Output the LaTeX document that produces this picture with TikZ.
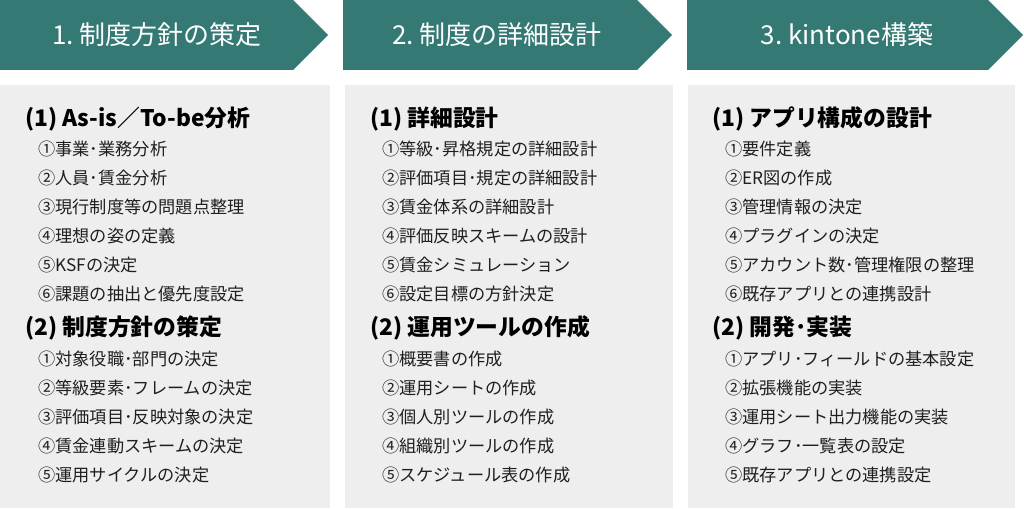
\documentclass[tikz,border=0pt]{standalone}
\usepackage{fontspec}
\setmainfont{Noto Sans CJK JP}
\definecolor{teal1}{RGB}{52,121,116}
\definecolor{boxgrey}{RGB}{238,238,238}
\begin{document}
\begin{tikzpicture}[x=1pt,y=-1pt,
  hdr/.style={font=\fontsize{26}{26}\selectfont, text=white, inner sep=0pt},
  sec/.style={font=\bfseries\fontsize{22.8}{23}\selectfont, anchor=west, inner sep=0pt, text=black},
  itm/.style={font=\fontsize{17.2}{17}\selectfont, anchor=west, inner sep=0pt, text=black!88}]
\useasboundingbox (0,0) rectangle (1024,508);
% header arrows
\fill[teal1] (0,0) -- (293,0) -- (328,35) -- (293,70) -- (0,70) -- cycle;
\fill[teal1] (343,0) -- (637,0) -- (672,35) -- (637,70) -- (343,70) -- cycle;
\fill[teal1] (687,0) -- (988,0) -- (1023,35) -- (988,70) -- (687,70) -- cycle;
\node[hdr] (h1) at (157,35) {1.\ 制度方針の策定};
\node[hdr] (h2) at (497,35) {2.\ 制度の詳細設計};
\node[hdr] (h3) at (847,35) {3.\ kintone構築};
% grey boxes
\fill[boxgrey] (0,85) rectangle (330,508);
\fill[boxgrey] (345,85) rectangle (673,508);
\fill[boxgrey] (688,85) rectangle (1015,508);
% column 1
\node[sec] (a1) at (25,119) {(1) As-is／To-be分析};
\node[itm] (a11) at (38,149) {①事業･業務分析};
\node[itm] (a12) at (38,178) {②人員･賃金分析};
\node[itm] (a13) at (38,207) {③現行制度等の問題点整理};
\node[itm] (a14) at (38,236) {④理想の姿の定義};
\node[itm] (a15) at (38,265) {⑤KSFの決定};
\node[itm] (a16) at (38,294) {⑥課題の抽出と優先度設定};
\node[sec] (a2) at (25,328) {(2) 制度方針の策定};
\node[itm] (a21) at (38,359) {①対象役職･部門の決定};
\node[itm] (a22) at (38,388) {②等級要素･フレームの決定};
\node[itm] (a23) at (38,417) {③評価項目･反映対象の決定};
\node[itm] (a24) at (38,446) {④賃金連動スキームの決定};
\node[itm] (a25) at (38,475) {⑤運用サイクルの決定};
% column 2
\node[sec] (b1) at (370,119) {(1) 詳細設計};
\node[itm] (b11) at (382,149) {①等級･昇格規定の詳細設計};
\node[itm] (b12) at (382,178) {②評価項目･規定の詳細設計};
\node[itm] (b13) at (382,207) {③賃金体系の詳細設計};
\node[itm] (b14) at (382,236) {④評価反映スキームの設計};
\node[itm] (b15) at (382,265) {⑤賃金シミュレーション};
\node[itm] (b16) at (382,294) {⑥設定目標の方針決定};
\node[sec] (b2) at (370,328) {(2) 運用ツールの作成};
\node[itm] (b21) at (382,359) {①概要書の作成};
\node[itm] (b22) at (382,388) {②運用シートの作成};
\node[itm] (b23) at (382,417) {③個人別ツールの作成};
\node[itm] (b24) at (382,446) {④組織別ツールの作成};
\node[itm] (b25) at (382,475) {⑤スケジュール表の作成};
% column 3
\node[sec] (c1) at (712,119) {(1) アプリ構成の設計};
\node[itm] (c11) at (725,149) {①要件定義};
\node[itm] (c12) at (725,178) {②ER図の作成};
\node[itm] (c13) at (725,207) {③管理情報の決定};
\node[itm] (c14) at (725,236) {④プラグインの決定};
\node[itm] (c15) at (725,265) {⑤アカウント数･管理権限の整理};
\node[itm] (c16) at (725,294) {⑥既存アプリとの連携設計};
\node[sec] (c2) at (712,328) {(2) 開発･実装};
\node[itm] (c21) at (725,359) {①アプリ･フィールドの基本設定};
\node[itm] (c22) at (725,388) {②拡張機能の実装};
\node[itm] (c23) at (725,417) {③運用シート出力機能の実装};
\node[itm] (c24) at (725,446) {④グラフ･一覧表の設定};
\node[itm] (c25) at (725,475) {⑤既存アプリとの連携設定};
\end{tikzpicture}
\end{document}
